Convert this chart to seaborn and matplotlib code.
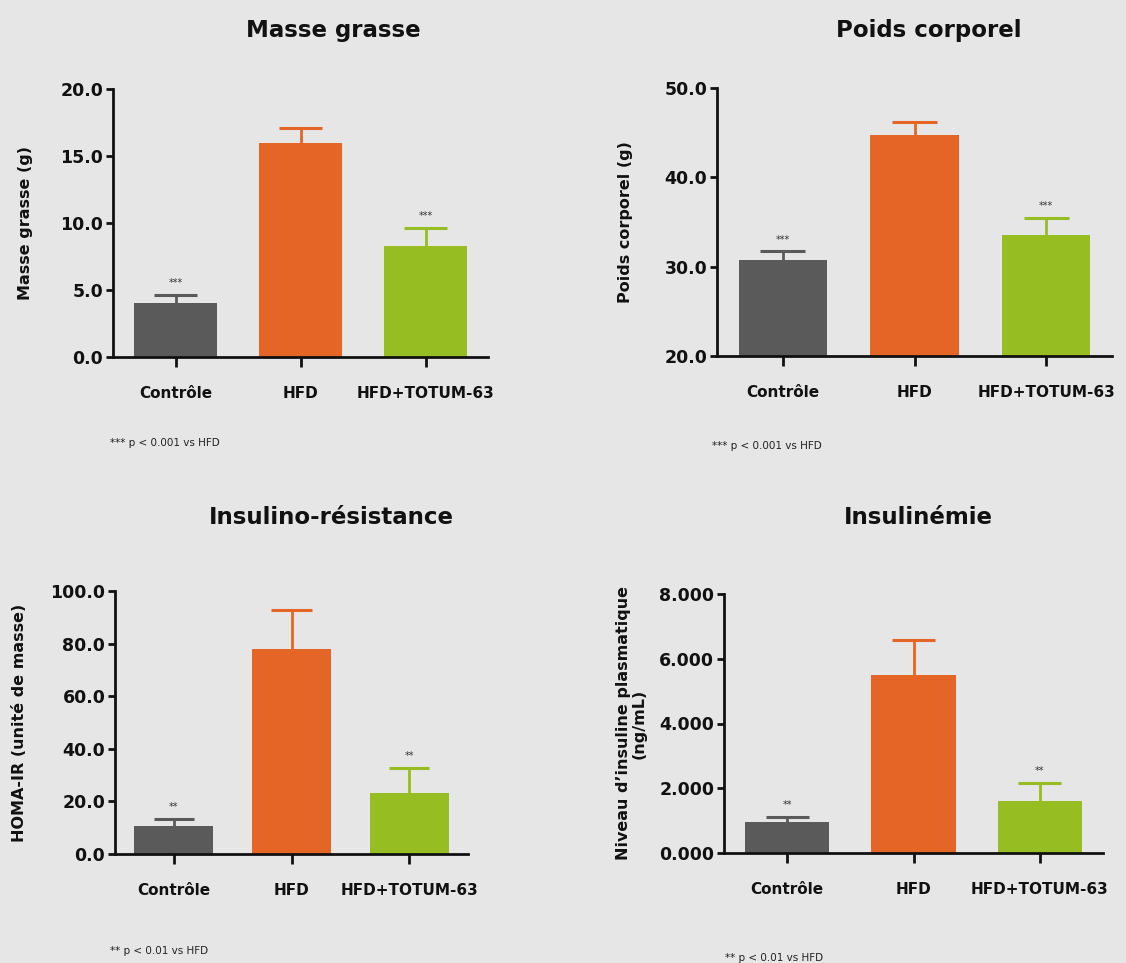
import matplotlib
matplotlib.use("Agg")
import matplotlib.pyplot as plt
import pandas as pd
import seaborn as sns
from matplotlib.ticker import FormatStrFormatter, MultipleLocator

# groups and colours
groups = ["Contrôle", "HFD", "HFD+TOTUM-63"]
colors = ["#5a5a5a", "#e46526", "#96bd21"]

# values (mean, upper error)
masse_grasse = [4.0, 16.0, 8.3]
masse_grasse_err = [0.6, 1.1, 1.3]
poids = [30.7, 44.7, 33.5]
poids_err = [1.0, 1.5, 2.0]
homa = [10.7, 78.1, 23.2]
homa_err = [2.5, 14.6, 9.4]
insuline = [0.96, 5.49, 1.60]
insuline_err = [0.15, 1.09, 0.57]

stars_3 = ["***", "", "***"]
stars_2 = ["**", "", "**"]

W, H = 1126, 963
BG = "#e6e6e6"

sns.set_style("white")
plt.rcParams["font.family"] = ["DejaVu Sans"]

fig = plt.figure(figsize=(W / 100, H / 100), dpi=100)
fig.patch.set_facecolor(BG)

# (values, err, stars, title, ylabel, ylim, step, fmt, axes px box l,t,r,b, label right px, title xy, note, note xy)
panels = [
    (masse_grasse, masse_grasse_err, stars_3, "Masse grasse", "Masse grasse (g)",
     (0, 20), 5, "%.1f", (113, 89, 488, 357), 33, (333, 30),
     "*** p < 0.001 vs HFD", (110, 443)),
    (poids, poids_err, stars_3, "Poids corporel", "Poids corporel (g)",
     (20, 50), 10, "%.1f", (717, 88, 1112, 356), 633, (929, 30),
     "*** p < 0.001 vs HFD", (712, 446)),
    (homa, homa_err, stars_2, "Insulino-résistance", "HOMA-IR (unité de masse)",
     (0, 100), 20, "%.1f", (115, 591, 468, 854), 27, (331, 518),
     "** p < 0.01 vs HFD", (110, 951)),
    (insuline, insuline_err, stars_2, "Insulinémie",
     "Niveau d\u2019insuline plasmatique\n(ng/mL)",
     (0, 8), 2, "%.3f", (724, 594, 1103, 853), 647, (918, 518),
     "** p < 0.01 vs HFD", (725, 958)),
]

for (vals, errs, stars, title, ylabel, ylim, step, fmt, box, lab_r,
     title_xy, note, note_xy) in panels:
    l, t, r, b = box
    ax = fig.add_axes([l / W, 1 - b / H, (r - l) / W, (b - t) / H])
    ax.set_facecolor(BG)

    df = pd.DataFrame({"group": groups, "value": vals})
    sns.barplot(data=df, x="group", y="value", hue="group", palette=colors,
                saturation=1, width=0.67, errorbar=None, legend=False, ax=ax,
                edgecolor="none", zorder=2)

    # upper-only error bars: stem + cap
    for i, (v, e, s) in enumerate(zip(vals, errs, stars)):
        ax.vlines(i, v, v + e, color=colors[i], lw=2, zorder=1)
        ax.hlines(v + e, i - 0.17, i + 0.17, color=colors[i], lw=2.2, zorder=1)
        if s:
            ax.annotate(s, (i, v + e), xytext=(0, 5), textcoords="offset points",
                        ha="center", va="bottom", fontsize=7, color="#333333")

    ax.set_xlim(-0.5, 2.5)
    ax.set_ylim(*ylim)
    ax.yaxis.set_major_locator(MultipleLocator(step))
    ax.yaxis.set_major_formatter(FormatStrFormatter(fmt))

    for side in ["top", "right"]:
        ax.spines[side].set_visible(False)
    for side in ["left", "bottom"]:
        ax.spines[side].set_linewidth(2)
        ax.spines[side].set_color("#111111")
        ax.spines[side].set_zorder(4)

    ax.tick_params(axis="y", length=5, width=2, labelsize=12.5, pad=2,
                   left=True, colors="#111111")
    ax.tick_params(axis="x", length=7, width=2, labelsize=11, pad=14,
                   bottom=True, colors="#111111")
    for lab in ax.get_xticklabels() + ax.get_yticklabels():
        lab.set_fontweight("bold")

    ax.set_xlabel("")
    ax.set_ylabel(ylabel, fontsize=11.5, fontweight="bold", color="#111111",
                  linespacing=1.1)
    ax.yaxis.set_label_coords((lab_r - l) / (r - l), 0.5)

    fig.text(title_xy[0] / W, 1 - title_xy[1] / H, title, ha="center",
             va="center", fontsize=16.5, fontweight="bold", color="#111111")
    fig.text(note_xy[0] / W, 1 - note_xy[1] / H, note, ha="left",
             va="center", fontsize=7.5, color="#222222")

fig.savefig("out.png", dpi=100, facecolor=BG)
